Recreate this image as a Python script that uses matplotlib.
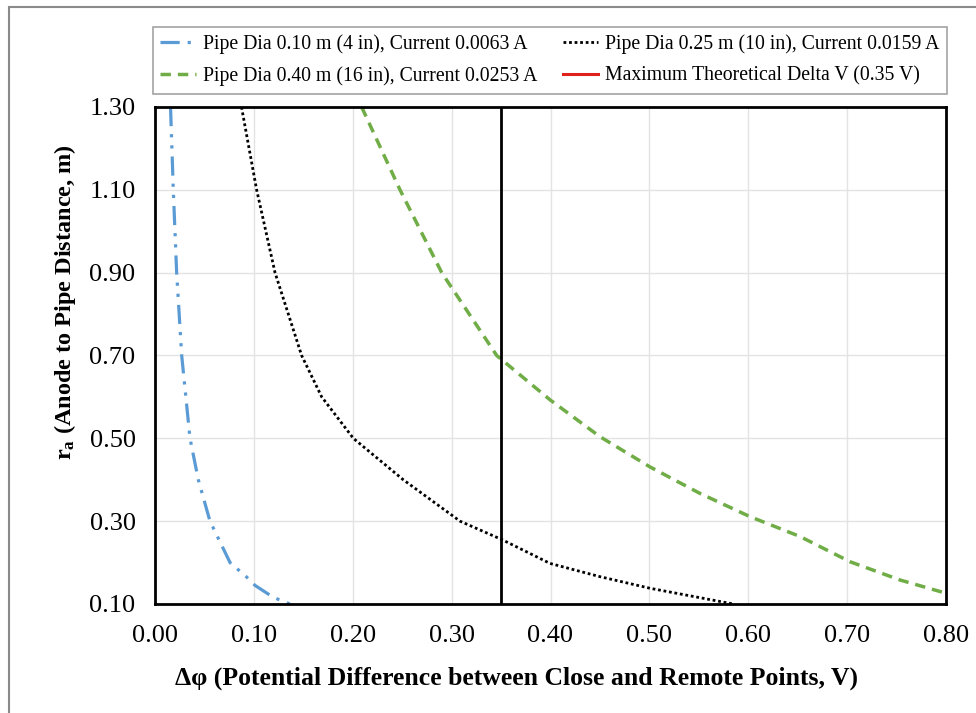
import matplotlib.pyplot as plt
from matplotlib.lines import Line2D
from matplotlib.patches import Rectangle

plt.rcParams['font.family'] = ['Liberation Serif', 'DejaVu Serif']
plt.rcParams['mathtext.fontset'] = 'custom'
plt.rcParams['mathtext.rm'] = 'Liberation Serif'
plt.rcParams['mathtext.bf'] = 'Liberation Serif:bold'

## data
# pipe 0.10 m
dv_010 = [0.0157, 0.0185, 0.0219, 0.027, 0.0354, 0.0438, 0.0556, 0.0759, 0.0927, 0.1011, 0.1197, 0.1365]
ra_010 = [1.30, 1.10, 0.90, 0.70, 0.50, 0.40, 0.30, 0.20, 0.165, 0.145, 0.116, 0.10]
# pipe 0.25 m
dv_025 = [0.0875, 0.1028, 0.1214, 0.1483, 0.1686, 0.2006, 0.2511, 0.3085, 0.3513, 0.3995, 0.450, 0.5006, 0.585]
ra_025 = [1.30, 1.10, 0.90, 0.70, 0.60, 0.50, 0.40, 0.30, 0.255, 0.198, 0.166, 0.138, 0.10]
# pipe 0.40 m
dv_040 = [0.209, 0.2478, 0.29, 0.3456, 0.3995, 0.450, 0.5006, 0.5512, 0.6017, 0.6523, 0.703, 0.7535, 0.80]
ra_040 = [1.30, 1.10, 0.90, 0.70, 0.593, 0.504, 0.431, 0.367, 0.311, 0.263, 0.202, 0.158, 0.126]
# max theoretical delta V
max_dv = 0.35

labels = ['Pipe Dia 0.10 m (4 in), Current 0.0063 A',
          'Pipe Dia 0.25 m (10 in), Current 0.0159 A',
          'Pipe Dia 0.40 m (16 in), Current 0.0253 A',
          'Maximum Theoretical Delta V (0.35 V)']

x_ticks = [0.0, 0.1, 0.2, 0.3, 0.4, 0.5, 0.6, 0.7, 0.8]
y_ticks = [0.10, 0.30, 0.50, 0.70, 0.90, 1.10, 1.30]

blue = '#5B9BD5'
green = '#70AD47'

W, H = 976.0, 713.0
fig = plt.figure(figsize=(9.76, 7.13), dpi=100)
ax = fig.add_axes([155 / W, 1 - 604 / H, 791 / W, 497 / H])

# outer frame (left and top edges visible)
fig.patches.append(Rectangle((9 / W, -0.02), 1.05, 1.02 - 7 / H, transform=fig.transFigure,
                             fill=False, edgecolor='#8a8a8a', linewidth=1.5, clip_on=False))

l1, = ax.plot(dv_010, ra_010, color=blue, lw=2.3, dashes=(6, 2.5, 1, 2.5, 1, 2.5))
l2, = ax.plot(dv_025, ra_025, color='black', lw=2.0, linestyle=(0, (1, 1)))
l3, = ax.plot(dv_040, ra_040, color=green, lw=2.5, dashes=(3, 2))
ax.plot([max_dv, max_dv], [y_ticks[0], y_ticks[-1]], color='black', lw=2.0)
l4 = Line2D([], [], color='#E0201B', lw=2.2)

ax.set_xlim(x_ticks[0], x_ticks[-1])
ax.set_ylim(y_ticks[0], y_ticks[-1])
ax.set_xticks(x_ticks)
ax.set_yticks(y_ticks)
ax.set_xticklabels(['%.2f' % v for v in x_ticks], fontsize=19)
ax.set_yticklabels(['%.2f' % v for v in y_ticks], fontsize=19)
ax.tick_params(axis='x', length=0, pad=15)
ax.tick_params(axis='y', length=0, pad=14)
ax.grid(True, color='#e3e3e3', lw=1)
ax.set_axisbelow(True)
for s in ax.spines.values():
    s.set_linewidth(2)

ax.set_xlabel('Δφ (Potential Difference between Close and Remote Points, V)',
              fontsize=18.5, fontweight='bold')
ax.xaxis.set_label_coords(0.457, -0.125)
ax.set_ylabel(r'$\mathbf{r_a}$ (Anode to Pipe Distance, m)', fontsize=17.5,
              fontweight='bold')
ax.yaxis.set_label_coords(-0.097, 0.607)

leg = fig.legend([l1, l3, l2, l4], [labels[0], labels[2], labels[1], labels[3]],
                 ncol=2, loc='upper left', mode='expand',
                 bbox_to_anchor=(153 / W, 1 - 91 / H, 794 / W, 64 / H),
                 fontsize=14.2, frameon=True, fancybox=False, handlelength=1.8,
                 handletextpad=0.35, columnspacing=0.8, borderpad=0.38, labelspacing=0.62,
                 borderaxespad=0)
leg.get_frame().set_edgecolor('#8c8c8c')
leg.get_frame().set_linewidth(1.2)

plt.savefig('out.png', dpi=100)
